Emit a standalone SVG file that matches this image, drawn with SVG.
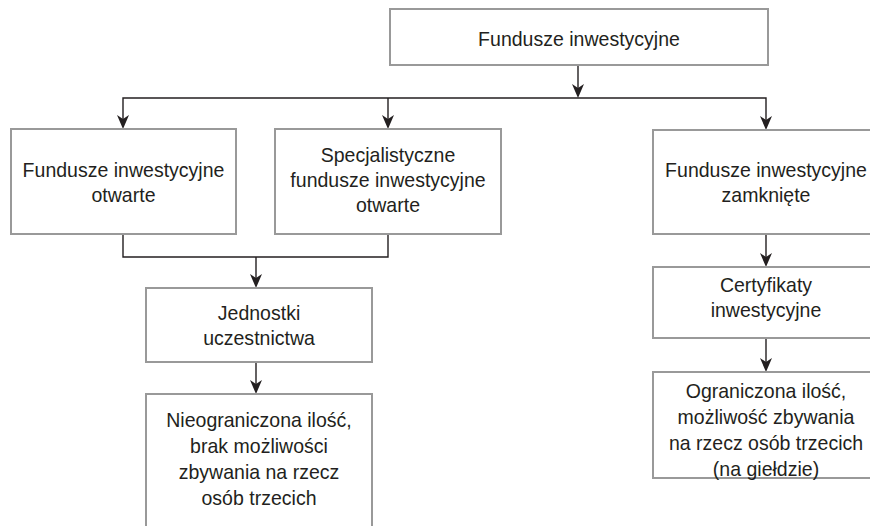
<svg xmlns="http://www.w3.org/2000/svg" width="870" height="526" viewBox="0 0 870 526">
<style>
.box{fill:#fff;stroke:#999;stroke-width:2}
.t{font-family:"Liberation Sans",Arial,sans-serif;font-size:21px;fill:#231f20;text-anchor:middle}
.c{fill:none;stroke:#231f20;stroke-width:1.4}
.ah{fill:#231f20}
</style>
<rect width="870" height="526" fill="#fff"/>
<g id="connectors">
<line class="c" x1="578" y1="65" x2="578" y2="90"/>
<path class="c" d="M123,120 V98 H766 V121"/>
<line class="c" x1="388" y1="98" x2="388" y2="120"/>
<path class="c" d="M123,234 V257 H388 V234"/>
<line class="c" x1="256" y1="257" x2="256" y2="280"/>
<line class="c" x1="256" y1="362" x2="256" y2="386"/>
<line class="c" x1="766" y1="234" x2="766" y2="259"/>
<line class="c" x1="766" y1="338" x2="766" y2="364"/>
<path class="ah" d="M572,84 L578,88 L584,84 L578,98 Z"/>
<path class="ah" d="M117,115 L123,119 L129,115 L123,129 Z"/>
<path class="ah" d="M382,115 L388,119 L394,115 L388,129 Z"/>
<path class="ah" d="M760,116 L766,120 L772,116 L766,130 Z"/>
<path class="ah" d="M250,274 L256,278 L262,274 L256,288 Z"/>
<path class="ah" d="M250,380 L256,384 L262,380 L256,394 Z"/>
<path class="ah" d="M760,253 L766,257 L772,253 L766,267 Z"/>
<path class="ah" d="M760,358 L766,362 L772,358 L766,372 Z"/>
</g>
<g id="n-top">
<rect class="box" x="390" y="9" width="378" height="56"/>
<g transform="translate(579,0) scale(0.93,1)">
<text class="t" x="0" y="46">Fundusze inwestycyjne</text>
</g>
</g>
<g id="n-fio">
<rect class="box" x="11" y="129" width="225" height="105"/>
<g transform="translate(123.5,0) scale(0.93,1)">
<text class="t" x="0" y="177">Fundusze inwestycyjne</text>
<text class="t" x="0" y="202">otwarte</text>
</g>
</g>
<g id="n-sfio">
<rect class="box" x="275" y="129" width="226" height="105"/>
<g transform="translate(388,0) scale(0.93,1)">
<text class="t" x="0" y="162">Specjalistyczne</text>
<text class="t" x="0" y="187">fundusze inwestycyjne</text>
<text class="t" x="0" y="212">otwarte</text>
</g>
</g>
<g id="n-fiz">
<rect class="box" x="653" y="130" width="226" height="104"/>
<g transform="translate(766,0) scale(0.93,1)">
<text class="t" x="0" y="177">Fundusze inwestycyjne</text>
<text class="t" x="0" y="202">zamknięte</text>
</g>
</g>
<g id="n-ju">
<rect class="box" x="146" y="288" width="226" height="74"/>
<g transform="translate(259,0) scale(0.93,1)">
<text class="t" x="0" y="320">Jednostki</text>
<text class="t" x="0" y="345">uczestnictwa</text>
</g>
</g>
<g id="n-ci">
<rect class="box" x="653" y="267" width="226" height="71"/>
<g transform="translate(766,0) scale(0.93,1)">
<text class="t" x="0" y="292">Certyfikaty</text>
<text class="t" x="0" y="317">inwestycyjne</text>
</g>
</g>
<g id="n-nieogr">
<rect class="box" x="146" y="394" width="226" height="150"/>
<g transform="translate(259,0) scale(0.93,1)">
<text class="t" x="0" y="427">Nieograniczona ilość,</text>
<text class="t" x="0" y="453">brak możliwości</text>
<text class="t" x="0" y="479">zbywania na rzecz</text>
<text class="t" x="0" y="505">osób trzecich</text>
</g>
</g>
<g id="n-ogr">
<rect class="box" x="653" y="372" width="226" height="106"/>
<g transform="translate(766,0) scale(0.93,1)">
<text class="t" x="0" y="398">Ograniczona ilość,</text>
<text class="t" x="0" y="424">możliwość zbywania</text>
<text class="t" x="0" y="450">na rzecz osób trzecich</text>
<text class="t" x="0" y="476">(na giełdzie)</text>
</g>
</g>
</svg>
